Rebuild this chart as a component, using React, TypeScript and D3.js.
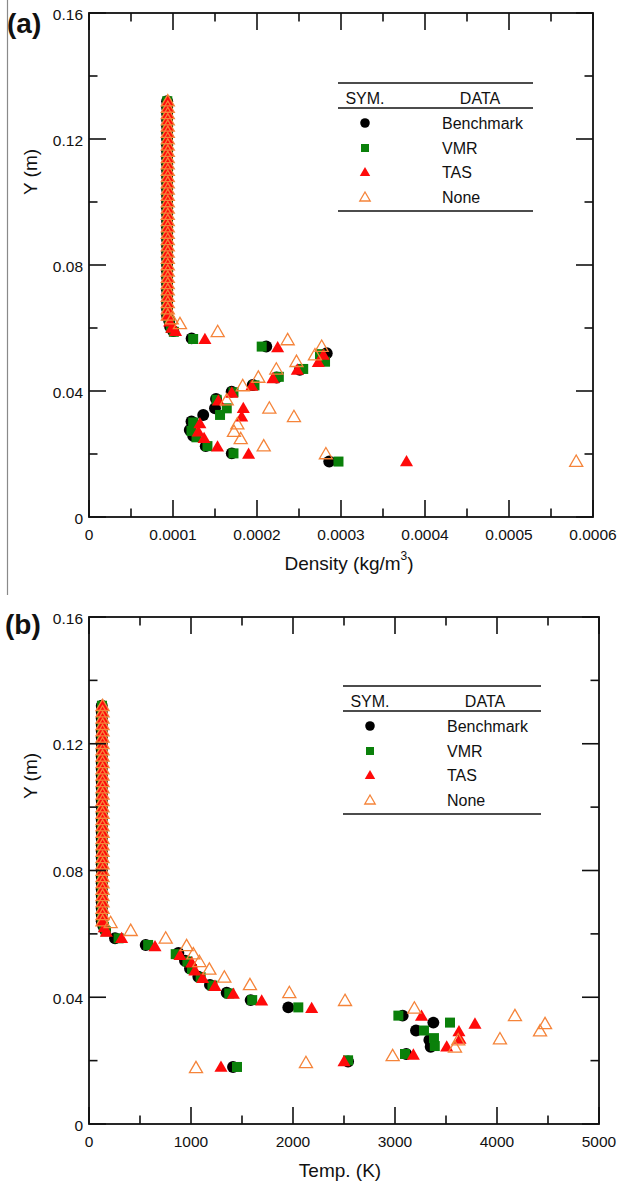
import React from "react";
import * as d3 from "d3";

const W = 619;
const H = 1188;
const FONT = "'Liberation Sans', Arial, Helvetica, sans-serif";

// Heights (m) of the stacked points in the uniform upper region of both profiles
const columnY = [
  0.064, 0.066, 0.068, 0.070, 0.072, 0.074, 0.076, 0.078, 0.080, 0.082, 0.084, 0.086,
  0.088, 0.090, 0.092, 0.094, 0.096, 0.098, 0.100, 0.102, 0.104, 0.106, 0.108, 0.110,
  0.112, 0.114, 0.116, 0.118, 0.120, 0.122, 0.124, 0.126, 0.128, 0.130, 0.132,
];

// ---- (a) Density (kg/m^3) against Y (m) ----
const densColBench = 0.000093;
const densColVMR = 0.0000932;
const densColTAS = 0.0000935;
const densColNone = 0.0000938;

const densBench: [number, number][] = [
  [0.0000955, 0.0622], [0.0000965, 0.0605], [0.0001004, 0.059], [0.0001222, 0.0567],
  [0.000211, 0.0541], [0.000283, 0.052], [0.000251, 0.0467], [0.0002234, 0.0443],
  [0.0001949, 0.0419], [0.0001698, 0.0398], [0.0001512, 0.0375], [0.00015, 0.0345],
  [0.000136, 0.0324], [0.000122, 0.0303], [0.00012, 0.0276], [0.000124, 0.0258],
  [0.000139, 0.0225], [0.00017, 0.0202], [0.000286, 0.0176],
];
const densVMR: [number, number][] = [
  [0.0000958, 0.0622], [0.0000975, 0.06], [0.000101, 0.0588], [0.000124, 0.0565],
  [0.0002056, 0.0541], [0.000275, 0.0517], [0.000281, 0.0493], [0.000255, 0.047],
  [0.000226, 0.0445], [0.000197, 0.0418], [0.000172, 0.0396], [0.000152, 0.0372],
  [0.000164, 0.0345], [0.000156, 0.0324], [0.000124, 0.03], [0.000122, 0.0273],
  [0.000128, 0.0253], [0.000141, 0.0225], [0.000172, 0.0202], [0.000297, 0.0176],
];
const densTAS: [number, number][] = [
  [0.000096, 0.062], [0.0000985, 0.06], [0.000103, 0.059], [0.000138, 0.0564],
  [0.0002246, 0.0538], [0.000279, 0.0514], [0.000273, 0.0491], [0.000248, 0.0467],
  [0.000219, 0.044], [0.0001937, 0.0416], [0.00017, 0.0394], [0.000154, 0.0369],
  [0.0001837, 0.0345], [0.0001818, 0.0318], [0.000132, 0.0297], [0.00013, 0.0271],
  [0.000137, 0.025], [0.000153, 0.0223], [0.00019, 0.02], [0.000378, 0.0176],
];
const densNone: [number, number][] = [
  [0.0000985, 0.0628], [0.0001083, 0.0613], [0.0001532, 0.0588], [0.0002365, 0.0562],
  [0.000277, 0.0541], [0.000269, 0.0514], [0.000247, 0.0493], [0.000223, 0.0469],
  [0.0002016, 0.0443], [0.000183, 0.0416], [0.000164, 0.0371], [0.0002147, 0.0345],
  [0.000244, 0.0318], [0.0001766, 0.0295], [0.0001726, 0.0271], [0.0001806, 0.0248],
  [0.000208, 0.0225], [0.000282, 0.02], [0.00058, 0.0176],
];

// ---- (b) Temperature (K) against Y (m) ----
const tempColBench = 125;
const tempColVMR = 127;
const tempColTAS = 130;
const tempColNone = 133;

const tempBench: [number, number][] = [
  [140, 0.0625], [157, 0.0612], [255, 0.0586], [556, 0.0565], [876, 0.054],
  [941, 0.0515], [990, 0.0491], [1072, 0.0465], [1186, 0.0439], [1350, 0.0414],
  [1585, 0.0391], [1954, 0.0368], [3075, 0.0342], [3376, 0.032], [3206, 0.0295],
  [3337, 0.0265], [3350, 0.0244], [3110, 0.0221], [2540, 0.0197], [1412, 0.018],
];
const tempVMR: [number, number][] = [
  [145, 0.0622], [165, 0.0608], [290, 0.0586], [580, 0.0565], [850, 0.0536],
  [965, 0.0513], [1010, 0.0489], [1095, 0.0463], [1210, 0.0437], [1375, 0.0412],
  [1600, 0.0391], [2052, 0.0368], [3033, 0.0342], [3539, 0.032], [3284, 0.0295],
  [3382, 0.0271], [3390, 0.0246], [3098, 0.0221], [2540, 0.0201], [1451, 0.018],
];
const tempTAS: [number, number][] = [
  [150, 0.062], [170, 0.0606], [320, 0.0586], [647, 0.056], [892, 0.0533],
  [1007, 0.0509], [1039, 0.0484], [1114, 0.046], [1235, 0.0435], [1415, 0.041],
  [1693, 0.0389], [2183, 0.0365], [3260, 0.0341], [3784, 0.0316], [3627, 0.0292],
  [3637, 0.0268], [3507, 0.0244], [3180, 0.0218], [2500, 0.0197], [1294, 0.018],
];
const tempNone: [number, number][] = [
  [212, 0.0635], [409, 0.061], [752, 0.0586], [957, 0.0562], [1023, 0.0536],
  [1082, 0.0512], [1180, 0.0488], [1327, 0.0463], [1578, 0.0439], [1964, 0.0414],
  [2510, 0.0389], [3190, 0.0365], [4176, 0.0341], [4471, 0.0316], [4422, 0.0293],
  [4029, 0.0268], [3620, 0.0265], [3588, 0.0242], [2977, 0.0215], [2127, 0.0193],
  [1049, 0.0177],
];

// ---- axes ----
const yMajor = [0, 0.04, 0.08, 0.12, 0.16];
const yMinor = [0.02, 0.06, 0.1, 0.14];
const yLabels = ["0", "0.04", "0.08", "0.12", "0.16"];

const densMajor = [0, 0.0001, 0.0002, 0.0003, 0.0004, 0.0005, 0.0006];
const densMinor = [0.00005, 0.00015, 0.00025, 0.00035, 0.00045, 0.00055];
const densLabels = ["0", "0.0001", "0.0002", "0.0003", "0.0004", "0.0005", "0.0006"];

const tempMajor = [0, 1000, 2000, 3000, 4000, 5000];
const tempMinor = [500, 1500, 2500, 3500, 4500];
const tempLabels = ["0", "1000", "2000", "3000", "4000", "5000"];

const seriesNames = ["Benchmark", "VMR", "TAS", "None"];

const BLACK = "#000000";
const GREEN = "#0a800a";
const RED = "#ff0a0a";
const ORANGE = "#f5843a";

type Kind = "circle" | "square" | "tri" | "openTri";
const kinds: Kind[] = ["circle", "square", "tri", "openTri"];

function symbolPath(kind: Kind, scale = 1): string {
  const gen = d3.symbol();
  if (kind === "circle") return gen.type(d3.symbolCircle).size(112 * scale * scale)() as string;
  if (kind === "square") return gen.type(d3.symbolSquare).size(100 * scale * scale)() as string;
  return gen.type(d3.symbolTriangle).size(74 * scale * scale)() as string;
}

function Marker({ kind, x, y, scale = 1 }: { kind: Kind; x: number; y: number; scale?: number }) {
  const d = symbolPath(kind, scale);
  if (kind === "circle") return <path d={d} transform={`translate(${x},${y})`} fill={BLACK} />;
  if (kind === "square") return <path d={d} transform={`translate(${x},${y})`} fill={GREEN} />;
  if (kind === "tri") return <path d={d} transform={`translate(${x},${y + 1})`} fill={RED} />;
  return (
    <path d={d} transform={`translate(${x},${y + 1})`} fill="none" stroke={ORANGE} strokeWidth={1.3} />
  );
}

function Legend({ left, right, top }: { left: number; right: number; top: number }) {
  const symX = left + 27;
  const dataX = left + 142;
  const labelX = left + 104;
  const rows = [top + 40, top + 65, top + 89, top + 114];
  return (
    <g fontFamily={FONT} fontSize={16} fill="#111">
      <line x1={left} x2={right} y1={top} y2={top} stroke="#111" strokeWidth={1.6} />
      <text x={symX} y={top + 15} textAnchor="middle" dominantBaseline="central">SYM.</text>
      <text x={dataX} y={top + 15} textAnchor="middle" dominantBaseline="central">DATA</text>
      <line x1={left} x2={right} y1={top + 25} y2={top + 25} stroke="#111" strokeWidth={1.6} />
      {seriesNames.map((name, i) => (
        <g key={name}>
          <Marker kind={kinds[i]} x={symX} y={rows[i]} scale={0.8} />
          <text x={labelX} y={rows[i]} dominantBaseline="central">{name}</text>
        </g>
      ))}
      <line x1={left} x2={right} y1={top + 128} y2={top + 128} stroke="#111" strokeWidth={1.6} />
    </g>
  );
}

type PanelProps = {
  tag: string;
  tagX: number;
  tagY: number;
  left: number;
  right: number;
  top: number;
  bottom: number;
  xDomain: [number, number];
  xMajor: number[];
  xMinor: number[];
  xLabels: string[];
  xTitle: React.ReactNode;
  xTitleX: number;
  series: [number, number][][];
  colX: number[];
  legend: { left: number; right: number; top: number };
};

function Panel(p: PanelProps) {
  const x = d3.scaleLinear().domain(p.xDomain).range([p.left, p.right]);
  const y = d3.scaleLinear().domain([0, 0.16]).range([p.bottom, p.top]);
  const major = 17;
  const minor = 8.5;
  const tick = { stroke: "#111", strokeWidth: 1.6 };
  return (
    <g>
      <text x={p.tagX} y={p.tagY} fontFamily={FONT} fontWeight="bold" fontSize={28} fill="#111">
        {p.tag}
      </text>
      {/* data, drawn one series after another */}
      {p.series.map((pts, si) => {
        const all: [number, number][] = [...columnY.map((v) => [p.colX[si], v] as [number, number]), ...pts];
        return (
          <g key={si}>
            {all.map(([vx, vy], i) => (
              <Marker key={i} kind={kinds[si]} x={x(vx)} y={y(vy)} />
            ))}
          </g>
        );
      })}
      {/* frame */}
      <rect x={p.left} y={p.top} width={p.right - p.left} height={p.bottom - p.top} fill="none" stroke="#111" strokeWidth={1.8} />
      {/* x ticks on bottom and top */}
      {p.xMajor.map((v) => (
        <g key={"xM" + v}>
          <line x1={x(v)} x2={x(v)} y1={p.bottom} y2={p.bottom - major} {...tick} />
          <line x1={x(v)} x2={x(v)} y1={p.top} y2={p.top + major} {...tick} />
        </g>
      ))}
      {p.xMinor.map((v) => (
        <g key={"xm" + v}>
          <line x1={x(v)} x2={x(v)} y1={p.bottom} y2={p.bottom - minor} {...tick} />
          <line x1={x(v)} x2={x(v)} y1={p.top} y2={p.top + minor} {...tick} />
        </g>
      ))}
      {/* y ticks on left and right */}
      {yMajor.map((v) => (
        <g key={"yM" + v}>
          <line x1={p.left} x2={p.left + major} y1={y(v)} y2={y(v)} {...tick} />
          <line x1={p.right} x2={p.right - major} y1={y(v)} y2={y(v)} {...tick} />
        </g>
      ))}
      {yMinor.map((v) => (
        <g key={"ym" + v}>
          <line x1={p.left} x2={p.left + minor} y1={y(v)} y2={y(v)} {...tick} />
          <line x1={p.right} x2={p.right - minor} y1={y(v)} y2={y(v)} {...tick} />
        </g>
      ))}
      <g fontFamily={FONT} fontSize={15.5} fill="#111">
        {yMajor.map((v, i) => (
          <text key={"yl" + v} x={p.left - 6} y={y(v) + 1} textAnchor="end" dominantBaseline="central">
            {yLabels[i]}
          </text>
        ))}
        {p.xMajor.map((v, i) => (
          <text key={"xl" + v} x={x(v)} y={p.bottom + 17} textAnchor="middle" dominantBaseline="central">
            {p.xLabels[i]}
          </text>
        ))}
      </g>
      <text x={p.xTitleX} y={p.bottom + 46} textAnchor="middle" dominantBaseline="central" fontFamily={FONT} fontSize={19} fill="#111">
        {p.xTitle}
      </text>
      <text
        transform={`translate(30,${p.top + 159}) rotate(-90)`}
        textAnchor="middle"
        dominantBaseline="central"
        fontFamily={FONT}
        fontSize={19}
        fill="#111"
      >
        Y (m)
      </text>
      <Legend {...p.legend} />
    </g>
  );
}

export default function App() {
  return (
    <svg
      width={W}
      height={H}
      viewBox={`0 0 ${W} ${H}`}
      style={{ position: "absolute", left: 0, top: 0, background: "#fff" }}
    >
      <rect x={0} y={0} width={W} height={H} fill="#fff" />
      <line x1={7.5} x2={7.5} y1={0} y2={595} stroke="#8a8a8a" strokeWidth={1.2} />
      <Panel
        tag="(a)"
        tagX={7}
        tagY={33}
        left={89}
        right={593}
        top={13}
        bottom={517}
        xDomain={[0, 0.0006]}
        xMajor={densMajor}
        xMinor={densMinor}
        xLabels={densLabels}
        xTitle={
          <>
            Density (kg/m
            <tspan fontSize={12} dy={-7}>3</tspan>
            <tspan dy={7}>)</tspan>
          </>
        }
        xTitleX={349}
        series={[densBench, densVMR, densTAS, densNone]}
        colX={[densColBench, densColVMR, densColTAS, densColNone]}
        legend={{ left: 338, right: 533, top: 83 }}
      />
      <Panel
        tag="(b)"
        tagX={5}
        tagY={634}
        left={89}
        right={599}
        top={617}
        bottom={1124}
        xDomain={[0, 5000]}
        xMajor={tempMajor}
        xMinor={tempMinor}
        xLabels={tempLabels}
        xTitle="Temp. (K)"
        xTitleX={340}
        series={[tempBench, tempVMR, tempTAS, tempNone]}
        colX={[tempColBench, tempColVMR, tempColTAS, tempColNone]}
        legend={{ left: 343, right: 541, top: 686 }}
      />
    </svg>
  );
}
